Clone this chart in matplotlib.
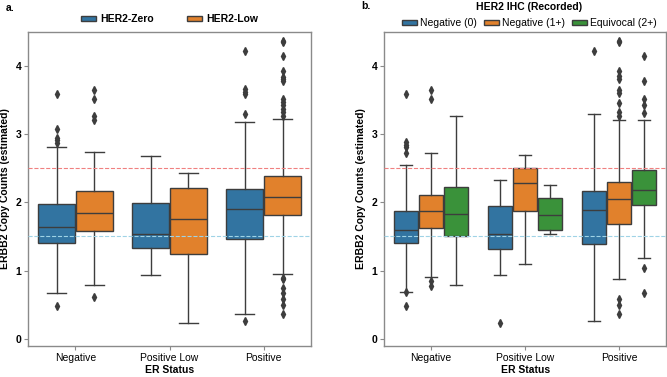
import matplotlib
matplotlib.use("Agg")
import matplotlib.pyplot as plt
from matplotlib.patches import Patch
import numpy as np

plt.rcParams['font.family'] = ['Liberation Sans', 'DejaVu Sans']

categories = ["Negative", "Positive Low", "Positive"]

# ---- Panel a: HER2-Zero / HER2-Low ----
groups_a = ["HER2-Zero", "HER2-Low"]
# per group: lists over categories
a_q1 = {"HER2-Zero": [1.40, 1.33, 1.46], "HER2-Low": [1.58, 1.25, 1.81]}
a_med = {"HER2-Zero": [1.64, 1.54, 1.90], "HER2-Low": [1.84, 1.76, 2.08]}
a_q3 = {"HER2-Zero": [1.97, 1.99, 2.19], "HER2-Low": [2.17, 2.21, 2.38]}
a_wlo = {"HER2-Zero": [0.67, 0.93, 0.37], "HER2-Low": [0.79, 0.23, 0.95]}
a_whi = {"HER2-Zero": [2.81, 2.68, 3.17], "HER2-Low": [2.74, 2.43, 3.22]}
a_fliers = {
    "HER2-Zero": [[3.58, 3.08, 2.94, 2.91, 2.87, 0.48],
                  [],
                  [4.21, 3.66, 3.61, 3.58, 3.30, 0.26]],
    "HER2-Low": [[3.65, 3.52, 3.27, 3.20, 0.61],
                 [],
                 [4.37, 4.35, 4.14, 3.93, 3.83, 3.80, 3.78, 3.52, 3.47, 3.42,
                  3.37, 3.32, 3.27, 0.89, 0.87, 0.75, 0.67, 0.59, 0.50, 0.36]],
}

# ---- Panel b: HER2 IHC (Recorded) ----
groups_b = ["Negative (0)", "Negative (1+)", "Equivocal (2+)"]
b_q1 = {"Negative (0)": [1.40, 1.31, 1.39], "Negative (1+)": [1.62, 1.87, 1.69], "Equivocal (2+)": [1.51, 1.59, 1.96]}
b_med = {"Negative (0)": [1.60, 1.54, 1.89], "Negative (1+)": [1.88, 2.29, 2.05], "Equivocal (2+)": [1.83, 1.81, 2.18]}
b_q3 = {"Negative (0)": [1.87, 1.95, 2.17], "Negative (1+)": [2.11, 2.50, 2.30], "Equivocal (2+)": [2.22, 2.07, 2.48]}
b_wlo = {"Negative (0)": [0.68, 0.93, 0.26], "Negative (1+)": [0.90, 1.09, 0.88], "Equivocal (2+)": [0.79, 1.53, 1.18]}
b_whi = {"Negative (0)": [2.55, 2.33, 3.30], "Negative (1+)": [2.73, 2.69, 3.21], "Equivocal (2+)": [3.26, 2.26, 3.20]}
b_fliers = {
    "Negative (0)": [[3.58, 2.88, 2.84, 2.81, 2.72, 0.68, 0.48],
                     [0.23],
                     [4.21]],
    "Negative (1+)": [[3.65, 3.52, 0.85, 0.77],
                      [],
                      [4.37, 4.35, 3.93, 3.85, 3.80, 3.65, 3.60, 3.46, 3.33, 3.27,
                       0.59, 0.50, 0.36]],
    "Equivocal (2+)": [[],
                       [],
                       [4.14, 3.78, 3.52, 3.42, 3.31, 1.04, 0.67]],
}

colors = ["#3274a1", "#e1812c", "#3a923a"]
edge = "#3d3d3d"

fig = plt.figure(figsize=(6.67, 3.77), dpi=100)
ax_a = fig.add_axes([0.0425, 0.083, 0.4235, 0.833])
ax_b = fig.add_axes([0.576, 0.083, 0.4225, 0.833])


def draw(ax, groups, q1, med, q3, wlo, whi, fliers):
    n = len(groups)
    total = 0.8
    w = total / n
    for gi, g in enumerate(groups):
        stats = []
        for ci in range(len(categories)):
            stats.append(dict(q1=q1[g][ci], med=med[g][ci], q3=q3[g][ci],
                              whislo=wlo[g][ci], whishi=whi[g][ci],
                              fliers=fliers[g][ci]))
        pos = np.arange(len(categories)) - total / 2 + w * (gi + 0.5)
        ax.bxp(stats, positions=pos, widths=w * 0.98, patch_artist=True,
               showcaps=True, manage_ticks=False,
               boxprops=dict(facecolor=colors[gi], edgecolor=edge, linewidth=1.0),
               medianprops=dict(color=edge, linewidth=1.0),
               whiskerprops=dict(color=edge, linewidth=1.0),
               capprops=dict(color=edge, linewidth=1.0),
               capwidths=w * 0.5,
               flierprops=dict(marker='d', markerfacecolor=edge,
                               markeredgecolor=edge, markersize=3.6))
    ax.axhline(2.5, color="#f08080", linestyle="--", linewidth=0.8, zorder=5)
    ax.axhline(1.5, color="#9fd3e6", linestyle="--", linewidth=0.8, zorder=5)
    ax.set_xlim(-0.5, 2.5)
    ax.set_ylim(-0.1, 4.5)
    ax.set_xticks(range(len(categories)))
    ax.set_xticklabels(categories, fontsize=7.5)
    ax.set_yticks([0, 1, 2, 3, 4])
    ax.set_yticklabels(["0", "1", "2", "3", "4"], fontsize=7.5, fontweight="bold")
    ax.set_xlabel("ER Status", fontsize=7.5, fontweight="bold", labelpad=2)
    ax.set_ylabel("ERBB2 Copy Counts (estimated)", fontsize=7.5, fontweight="bold", labelpad=4)
    for s in ax.spines.values():
        s.set_color("#8a8a8a")
        s.set_linewidth(1.0)
    ax.tick_params(axis='both', length=3, width=0.8, color="#8a8a8a", pad=2)


draw(ax_a, groups_a, a_q1, a_med, a_q3, a_wlo, a_whi, a_fliers)
draw(ax_b, groups_b, b_q1, b_med, b_q3, b_wlo, b_whi, b_fliers)

handles_a = [Patch(facecolor=colors[i], edgecolor=edge, label=g) for i, g in enumerate(groups_a)]
leg_a = ax_a.legend(handles=handles_a, loc="lower center", bbox_to_anchor=(0.5, 1.0),
                    ncol=2, frameon=False, handlelength=1.4,
                    handleheight=0.45, columnspacing=3.2, handletextpad=0.4,
                    borderaxespad=0.3, prop=dict(weight="bold", size=7.5))

handles_b = [Patch(facecolor=colors[i], edgecolor=edge, label=g) for i, g in enumerate(groups_b)]
leg_b = ax_b.legend(handles=handles_b, loc="lower center", bbox_to_anchor=(0.515, 0.995),
                    ncol=3, frameon=False, handlelength=1.4, handleheight=0.45,
                    columnspacing=0.7, handletextpad=0.3, borderaxespad=0.1,
                    prop=dict(size=7.5), title="HER2 IHC (Recorded)",
                    title_fontproperties=dict(weight="bold", size=7.5))
leg_b._legend_box.sep = 4

fig.text(0.008, 0.978, "a.", fontsize=7.5, fontweight="bold", va="center")
fig.text(0.541, 0.985, "b.", fontsize=7.5, fontweight="bold", va="center")

fig.savefig("out.png", dpi=100)
